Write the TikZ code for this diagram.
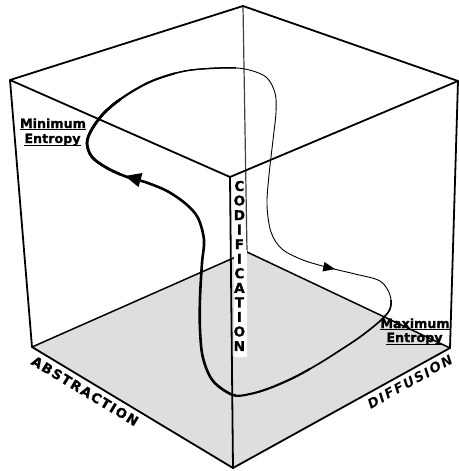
\documentclass[tikz,border=0pt]{standalone}
\usepackage{fontspec}
\setmainfont{DejaVu Sans}[BoldFeatures={FakeBold=1.2}]
\newfontfamily\spacedfont{DejaVu Sans}[LetterSpace=12, BoldFeatures={FakeBold=1.2}]
\newcommand\loopcurve{plot[smooth cycle, tension=0.55] coordinates {(233,395) (250,394) (270,388) (295,377) (320,363) (342,349) (360,337) (380,321) (390,309) (390,295) (380,281) (355,274) (330,268) (303,260) (282,249) (271,232) (267,205) (269,175) (273,140) (276,112) (275,93) (266,77) (245,69) (220,68) (185,71) (152,81) (125,96) (105,112) (92,129) (87,143) (92,157) (107,168) (127,177) (145,182) (167,191) (186,204) (198,218) (204,240) (202,263) (200,298) (200,330) (203,358) (213,381)}}
\begin{document}
\begin{tikzpicture}[x=1pt,y=-1pt,
  edge/.style={line width=1.8pt, line join=round, line cap=round},
  backedge/.style={line width=1.2pt, black!75},
  lbl/.style={font=\bfseries\fontsize{12.7}{15}\selectfont, inner sep=0pt, anchor=base},
  axis/.style={font=\spacedfont\bfseries\fontsize{13.3}{15}\selectfont, inner sep=0pt},
  letter/.style={font=\bfseries\fontsize{13.5}{15}\selectfont, inner sep=0pt},
  uline/.style={line width=1pt}]
\useasboundingbox (0,0) rectangle (458,471);
% cube vertices
\coordinate (TL) at (10,80);
\coordinate (TB) at (243,6);
\coordinate (TR) at (458,81);
\coordinate (TF) at (230,177);
\coordinate (BL) at (32,347);
\coordinate (BB) at (247,252);
\coordinate (BR) at (450,348);
\coordinate (BF) at (233,468);
% bottom face
\fill[black!13] (BL) -- (BB) -- (BR) -- (BF) -- cycle;
% hidden edges
\draw[edge, line width=1.5pt] (BL) -- (BB) -- (BR);
\draw[backedge] (TB) -- (BB);
% visible edges
\draw[edge] (TL) -- (TB) -- (TR) -- (TF) -- cycle;
\draw[edge] (TL) -- (BL) -- (BF) -- (BR) -- (TR);
\draw[edge] (TF) -- (BF);
% the loop, tapering widths
\draw[line width=0.9pt] \loopcurve;
\begin{scope}
  \clip (0,100) rectangle (236,471);
  \draw[line width=2.6pt] \loopcurve;
\end{scope}
\begin{scope}
  \clip (0,0) rectangle (120,471);
  \draw[line width=2.6pt] \loopcurve;
\end{scope}
\begin{scope}
  \clip (120,0) rectangle (175,100);
  \draw[line width=2.1pt] \loopcurve;
\end{scope}
\begin{scope}
  \clip (175,0) rectangle (236,100);
  \draw[line width=1.5pt] \loopcurve;
\end{scope}
\begin{scope}
  \clip (236,300) rectangle (310,471);
  \draw[line width=2.1pt] \loopcurve;
\end{scope}
\begin{scope}
  \clip (310,300) rectangle (400,471);
  \draw[line width=1.6pt] \loopcurve;
\end{scope}
% arrowheads
\coordinate (a1t) at (125,176);
\coordinate (a1l) at (142.5,173);
\coordinate (a1r) at (138.5,187);
\fill (a1t) -- (a1l) -- (a1r) -- cycle;
\coordinate (a2t) at (335,269);
\coordinate (a2l) at (324.5,262);
\coordinate (a2r) at (322.5,271.5);
\fill (a2t) -- (a2l) -- (a2r) -- cycle;
% codification strip
\fill[white] (233.8,250) rectangle (246.5,357);
\foreach \ch [count=\i from 0] in {C,O,D,I,F,I,C,A,T,I,O,N} {
  \node[letter] (cod\i) at (239.4,186+14.55*\i) {\ch};
}
% labels
\node[lbl] (min1) at (53,128) {Minimum};
\node[lbl] (min2) at (52.5,143) {Entropy};
\draw[uline] ([yshift=-1.6pt]min1.base west) -- ([yshift=-1.6pt]min1.base east);
\draw[uline] ([yshift=-2.6pt]min2.base west) -- ([yshift=-2.6pt]min2.base east);
\node[lbl] (max1) at (415,328) {Maximum};
\node[lbl] (max2) at (414.5,342) {Entropy};
\draw[uline] ([yshift=-1.6pt]max1.base west) -- ([yshift=-1.6pt]max1.base east);
\draw[uline] ([yshift=-2.6pt]max2.base west) -- ([yshift=-2.6pt]max2.base east);
\node[axis, rotate=-31] (abs) at (85,391) {ABSTRACTION};
\node[axis, rotate=29] (dif) at (410,382) {\itshape DIFFUSION};
\end{tikzpicture}
\end{document}
